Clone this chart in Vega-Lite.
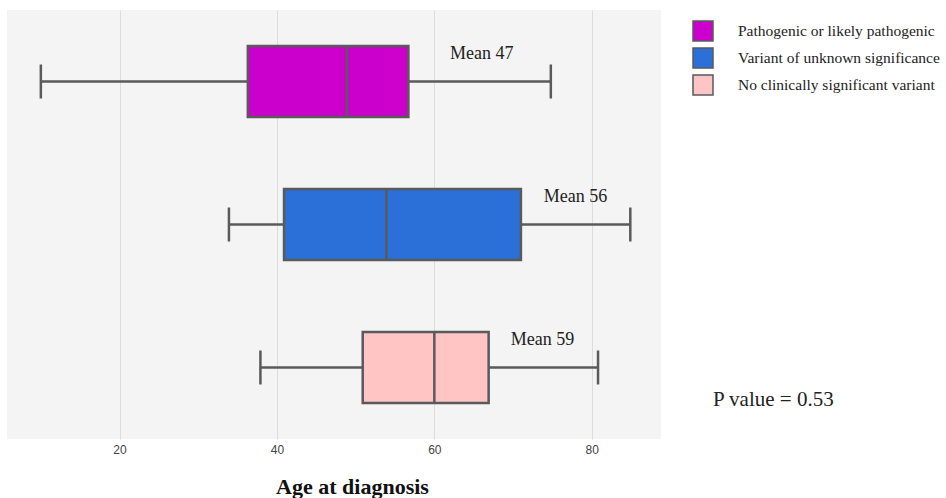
{
  "$schema": "https://vega.github.io/schema/vega-lite/v6.json",
  "width": 654,
  "height": 429,
  "autosize": {"type": "none"},
  "padding": {"left": 7, "top": 10, "right": 285, "bottom": 59},
  "background": "#ffffff",
  "config": {
    "view": {"fill": "#f4f4f4", "stroke": null},
    "axis": {
      "grid": true,
      "gridColor": "#dcdcdc",
      "gridWidth": 1,
      "ticks": false,
      "domain": false,
      "labelFont": "Liberation Sans",
      "labelFontSize": 12,
      "labelColor": "#444444",
      "labelPadding": 5
    },
    "legend": {
      "orient": "none",
      "legendX": 685,
      "legendY": 10,
      "padding": 0,
      "symbolType": "square",
      "symbolSize": 400,
      "symbolStrokeColor": "#5a5a5a",
      "symbolStrokeWidth": 1.5,
      "rowPadding": 1,
      "labelOffset": 24,
      "labelFont": "Liberation Serif",
      "labelFontSize": 15.5,
      "labelColor": "#222222",
      "labelLimit": 400
    }
  },
  "datasets": {
    "boxes": [
      {"group": "Pathogenic or likely pathogenic", "min": 10, "q1": 36.3, "median": 48.9, "q3": 56.7, "max": 74.8, "label": "Mean 47", "labelAt": 62.0},
      {"group": "Variant of unknown significance", "min": 33.9, "q1": 40.9, "median": 53.9, "q3": 71.0, "max": 84.9, "label": "Mean 56", "labelAt": 73.9},
      {"group": "No clinically significant variant", "min": 37.9, "q1": 50.9, "median": 60.0, "q3": 66.9, "max": 80.8, "label": "Mean 59", "labelAt": 69.7}
    ],
    "note": [
      {"group": "No clinically significant variant", "text": "P value = 0.53", "at": 95.4}
    ]
  },
  "data": {"name": "boxes"},
  "encoding": {
    "y": {
      "field": "group",
      "type": "nominal",
      "sort": ["Pathogenic or likely pathogenic", "Variant of unknown significance", "No clinically significant variant"],
      "scale": {"paddingInner": 0, "paddingOuter": 0},
      "axis": null
    }
  },
  "layer": [
    {
      "mark": {"type": "rule", "color": "#5a5a5a", "strokeWidth": 2.5},
      "encoding": {
        "x": {
          "field": "min",
          "type": "quantitative",
          "scale": {"domain": [5.7, 88.8], "nice": false, "zero": false},
          "axis": {
            "values": [20, 40, 60, 80],
            "title": "Age at diagnosis",
            "titleFont": "Liberation Serif",
            "titleFontWeight": "bold",
            "titleFontSize": 22,
            "titleColor": "#111111",
            "titleX": 345,
            "titleY": 54,
            "titleAlign": "center",
            "titleBaseline": "alphabetic"
          }
        },
        "x2": {"field": "max"}
      }
    },
    {
      "mark": {"type": "tick", "color": "#5a5a5a", "thickness": 2.5, "size": 34, "opacity": 1},
      "encoding": {"x": {"field": "min", "type": "quantitative"}}
    },
    {
      "mark": {"type": "tick", "color": "#5a5a5a", "thickness": 2.5, "size": 34, "opacity": 1},
      "encoding": {"x": {"field": "max", "type": "quantitative"}}
    },
    {
      "mark": {"type": "bar", "size": 71, "stroke": "#5a5a5a", "strokeWidth": 2.5, "opacity": 1},
      "encoding": {
        "x": {"field": "q1", "type": "quantitative"},
        "x2": {"field": "q3"},
        "fill": {
          "field": "group",
          "type": "nominal",
          "scale": {
            "domain": ["Pathogenic or likely pathogenic", "Variant of unknown significance", "No clinically significant variant"],
            "range": ["#cc00cc", "#2b6fd9", "#ffc5c5"]
          },
          "legend": {"title": null}
        }
      }
    },
    {
      "mark": {"type": "tick", "color": "#5a5a5a", "thickness": 2.5, "size": 71, "opacity": 1},
      "encoding": {"x": {"field": "median", "type": "quantitative"}}
    },
    {
      "mark": {"type": "text", "align": "left", "baseline": "alphabetic", "dy": -23, "font": "Liberation Serif", "fontSize": 18, "color": "#222222"},
      "encoding": {
        "x": {"field": "labelAt", "type": "quantitative"},
        "text": {"field": "label"}
      }
    },
    {
      "data": {"name": "note"},
      "mark": {"type": "text", "align": "left", "baseline": "alphabetic", "dy": 38, "font": "Liberation Serif", "fontSize": 21, "color": "#222222"},
      "encoding": {
        "x": {"field": "at", "type": "quantitative"},
        "text": {"field": "text"}
      }
    }
  ]
}
